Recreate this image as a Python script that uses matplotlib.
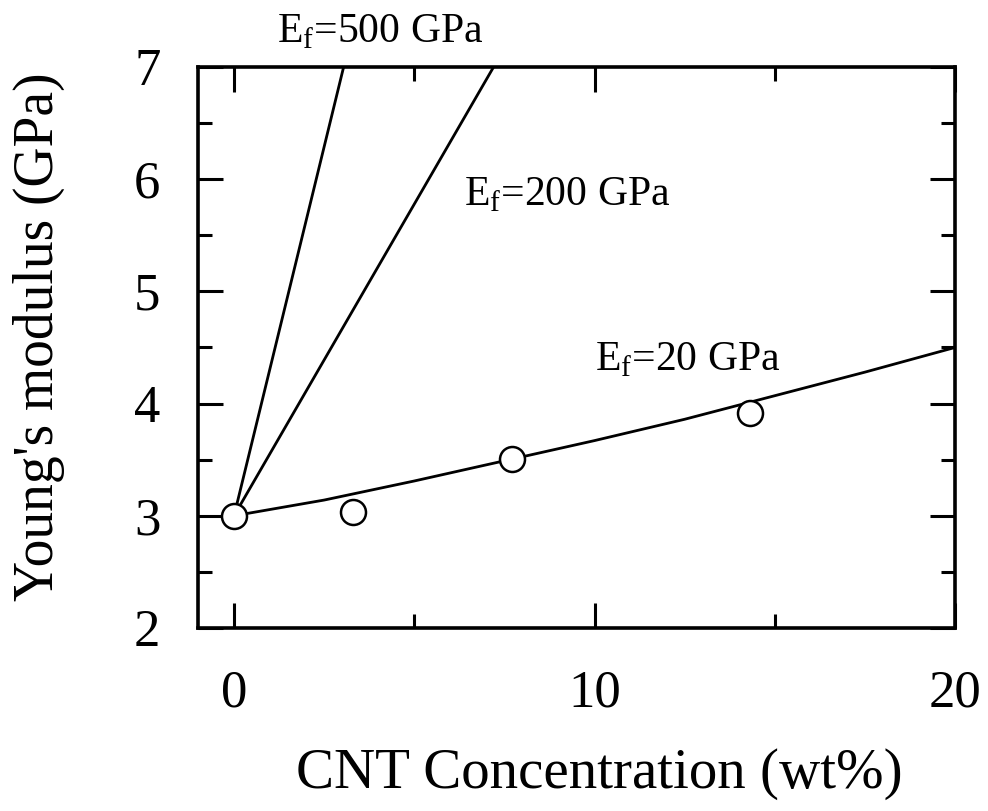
import numpy as np
import matplotlib
matplotlib.use("Agg")
import matplotlib.pyplot as plt
from matplotlib.ticker import MultipleLocator

# measured CNT / epoxy composite moduli
conc = [0.0, 3.3, 7.7, 14.3]
modulus = [3.0, 3.03, 3.51, 3.92]

# model curves
x_ef20 = [0.0, 2.5, 5.0, 7.5, 10.0, 12.5, 15.0, 17.5, 20.0]
y_ef20 = [3.0, 3.14, 3.31, 3.49, 3.67, 3.86, 4.07, 4.28, 4.5]
x_ef200 = [0.0, 3.6, 7.2]
y_ef200 = [3.0, 5.0, 7.0]
x_ef500 = [0.0, 1.52, 3.04]
y_ef500 = [3.0, 5.0, 7.0]

labels = [r"E$_\mathrm{f}$=500 GPa", r"E$_\mathrm{f}$=200 GPa", r"E$_\mathrm{f}$=20 GPa"]
label_pos = [(1.18, 7.22), (6.37, 5.77), (10.02, 4.30)]

plt.rcParams["font.family"] = ["Liberation Serif", "DejaVu Serif"]
plt.rcParams["mathtext.fontset"] = "custom"
plt.rcParams["mathtext.rm"] = "Liberation Serif"

fig = plt.figure(figsize=(9.88, 8.11), dpi=100)
ax = fig.add_axes([0.2004, 0.2257, 0.7662, 0.6917])

for xs, ys in [(x_ef20, y_ef20), (x_ef200, y_ef200), (x_ef500, y_ef500)]:
    ax.plot(xs, ys, color="black", lw=2.0, zorder=2)
ax.plot(conc, modulus, "o", ms=18, mfc="white", mec="black", mew=1.8, zorder=3)

for txt, (tx, ty) in zip(labels, label_pos):
    ax.text(tx, ty, txt, fontsize=30, ha="left", va="baseline", clip_on=False)

ax.set_xlim(-1, 20)
ax.set_ylim(2, 7)
ax.xaxis.set_major_locator(MultipleLocator(10))
ax.xaxis.set_minor_locator(MultipleLocator(5))
ax.yaxis.set_major_locator(MultipleLocator(1))
ax.yaxis.set_minor_locator(MultipleLocator(0.5))
ax.tick_params(which="both", direction="in", top=True, right=True, width=2.2, labelsize=38)
ax.tick_params(which="major", length=18)
ax.tick_params(which="minor", length=10)
ax.tick_params(axis="x", pad=30)
ax.tick_params(axis="y", pad=27)
for sp in ax.spines.values():
    sp.set_linewidth(2.6)

ax.set_xlabel("CNT Concentration (wt%)", fontsize=41, labelpad=22)
ax.xaxis.label.set_x(0.53)
ax.set_ylabel("Young's modulus (GPa)", fontsize=40)
ax.yaxis.set_label_coords(-0.21, 0.519)
ax.yaxis.label.set_va("center")

fig.savefig("out.png", dpi=100)
